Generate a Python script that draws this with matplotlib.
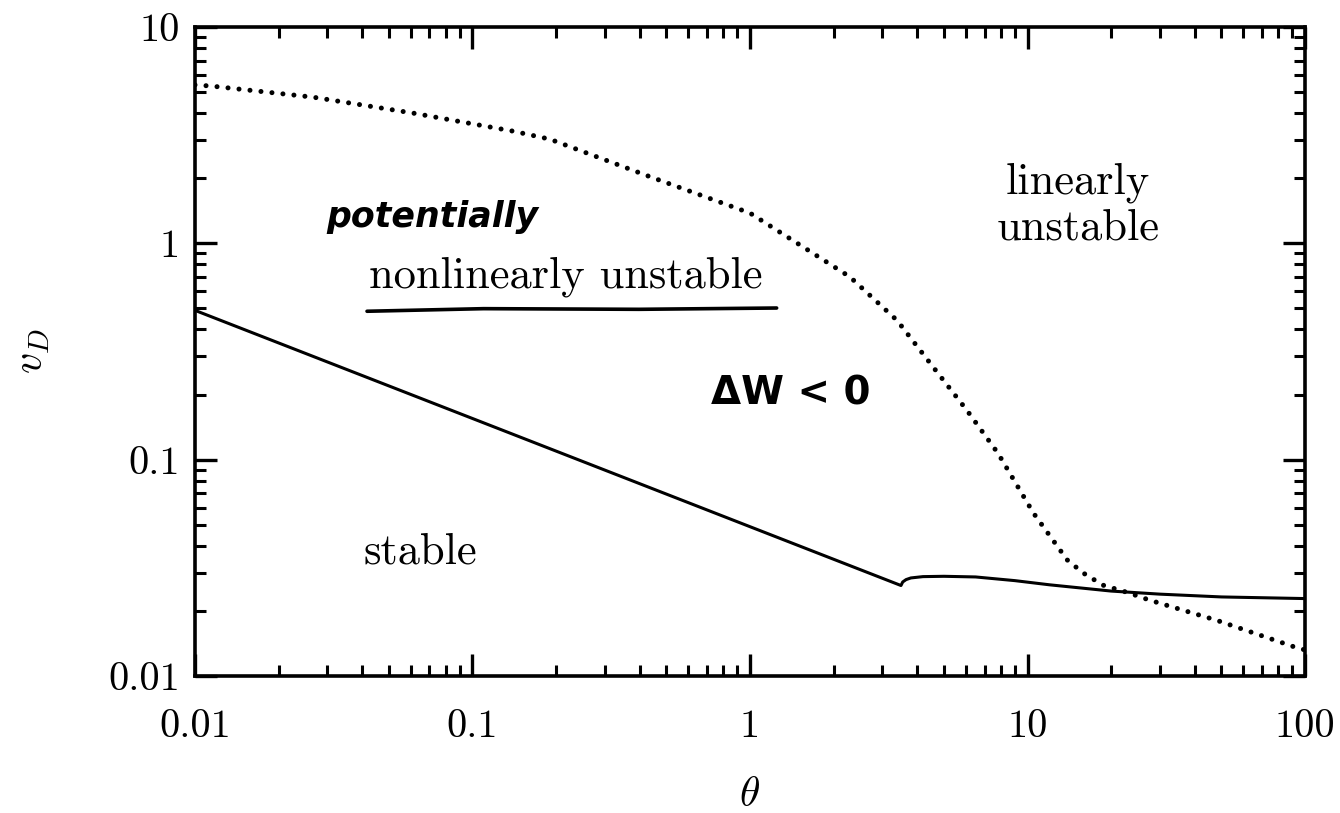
import matplotlib
matplotlib.use("Agg")
import matplotlib.pyplot as plt
from matplotlib.ticker import LogLocator, NullFormatter, FixedLocator, FixedFormatter

# solid boundary: stable / nonlinearly unstable
theta_solid = [0.01, 0.1, 1.0, 3.5, 3.55, 3.65, 3.8, 4.2, 5.0, 6.5, 9.0, 12.0, 20.0, 30.0, 50.0, 100.0]
vd_solid = [0.49, 0.155, 0.049, 0.0262, 0.0272, 0.0279, 0.0284, 0.0288, 0.0289, 0.0287, 0.0276, 0.0264, 0.0247, 0.0239, 0.0232, 0.0228]

# dotted boundary: linear stability threshold
theta_dot = [0.01, 0.0115, 0.0266, 0.061, 0.14, 0.19, 0.437, 1.0, 2.29, 3.39, 4.57, 6.05, 7.83,
             10.5, 13.9, 15.9, 18.7, 23.0, 27.6, 48.0, 92.0, 100.0]
vd_dot = [5.4, 5.33, 4.74, 4.0, 3.3, 3.03, 2.03, 1.38, 0.70, 0.44, 0.268, 0.169, 0.107,
          0.0567, 0.0344, 0.0299, 0.0263, 0.0243, 0.0224, 0.0181, 0.0136, 0.0132]

x_ticks = [0.01, 0.1, 1, 10, 100]
x_labels = ["0.01", "0.1", "1", "10", "100"]
y_ticks = [0.01, 0.1, 1, 10]
y_labels = ["0.01", "0.1", "1", "10"]

plt.rcParams["mathtext.fontset"] = "cm"
SERIF = "cmr10"
HAND = "DejaVu Sans"

fig = plt.figure(figsize=(13.4, 8.13), dpi=100)
ax = fig.add_axes([0.1455, 0.1685, 0.8284, 0.7983])

ax.plot(theta_solid, vd_solid, "-", color="black", lw=2.2, solid_joinstyle="round")
ax.plot(theta_dot, vd_dot, color="black", lw=3.6,
        linestyle=(0, (0.01, 2.2)), dash_capstyle="round")

ax.set_xscale("log")
ax.set_yscale("log")
ax.set_xlim(0.01, 100)
ax.set_ylim(0.01, 10)

for axis in (ax.xaxis, ax.yaxis):
    axis.set_minor_locator(LogLocator(base=10, subs=range(2, 10), numticks=20))
    axis.set_minor_formatter(NullFormatter())
ax.xaxis.set_major_locator(FixedLocator(x_ticks))
ax.xaxis.set_major_formatter(FixedFormatter(x_labels))
ax.yaxis.set_major_locator(FixedLocator(y_ticks))
ax.yaxis.set_major_formatter(FixedFormatter(y_labels))

ax.tick_params(which="both", direction="in", top=True, right=True, colors="black")
ax.tick_params(which="major", length=16, width=2.4, labelsize=29, pad=11)
ax.tick_params(which="minor", length=8, width=2.2)
ax.tick_params(axis="x", which="major", pad=24)
for lab in ax.get_xticklabels() + ax.get_yticklabels():
    lab.set_fontfamily(SERIF)
for spine in ax.spines.values():
    spine.set_linewidth(2.6)

ax.set_xlabel(r"$\theta$", fontsize=30, labelpad=20)
ax.set_ylabel(r"$v_D$", fontsize=30, labelpad=40)

# region labels
ax.text(0.2135, 0.707, "potentially", transform=ax.transAxes, family=HAND,
        fontsize=25, fontweight="bold", fontstyle="italic", ha="center", va="center")
ax.text(0.334, 0.598, "nonlinearly unstable", transform=ax.transAxes, family=SERIF,
        fontsize=32, ha="center", va="baseline")
ax.plot([0.155, 0.26, 0.40, 0.524], [0.562, 0.566, 0.565, 0.567], transform=ax.transAxes,
        color="black", lw=2.6, solid_capstyle="round")
ax.text(0.537, 0.436, "ΔW < 0", transform=ax.transAxes, family=HAND,
        fontsize=28, fontweight="bold", ha="center", va="center")
ax.text(0.795, 0.744, "linearly", transform=ax.transAxes, family=SERIF,
        fontsize=32, ha="center", va="baseline")
ax.text(0.796, 0.672, "unstable", transform=ax.transAxes, family=SERIF,
        fontsize=32, ha="center", va="baseline")
ax.text(0.2027, 0.174, "stable", transform=ax.transAxes, family=SERIF,
        fontsize=32, ha="center", va="baseline")

fig.savefig("out.png", dpi=100, facecolor="white")
plt.close(fig)
